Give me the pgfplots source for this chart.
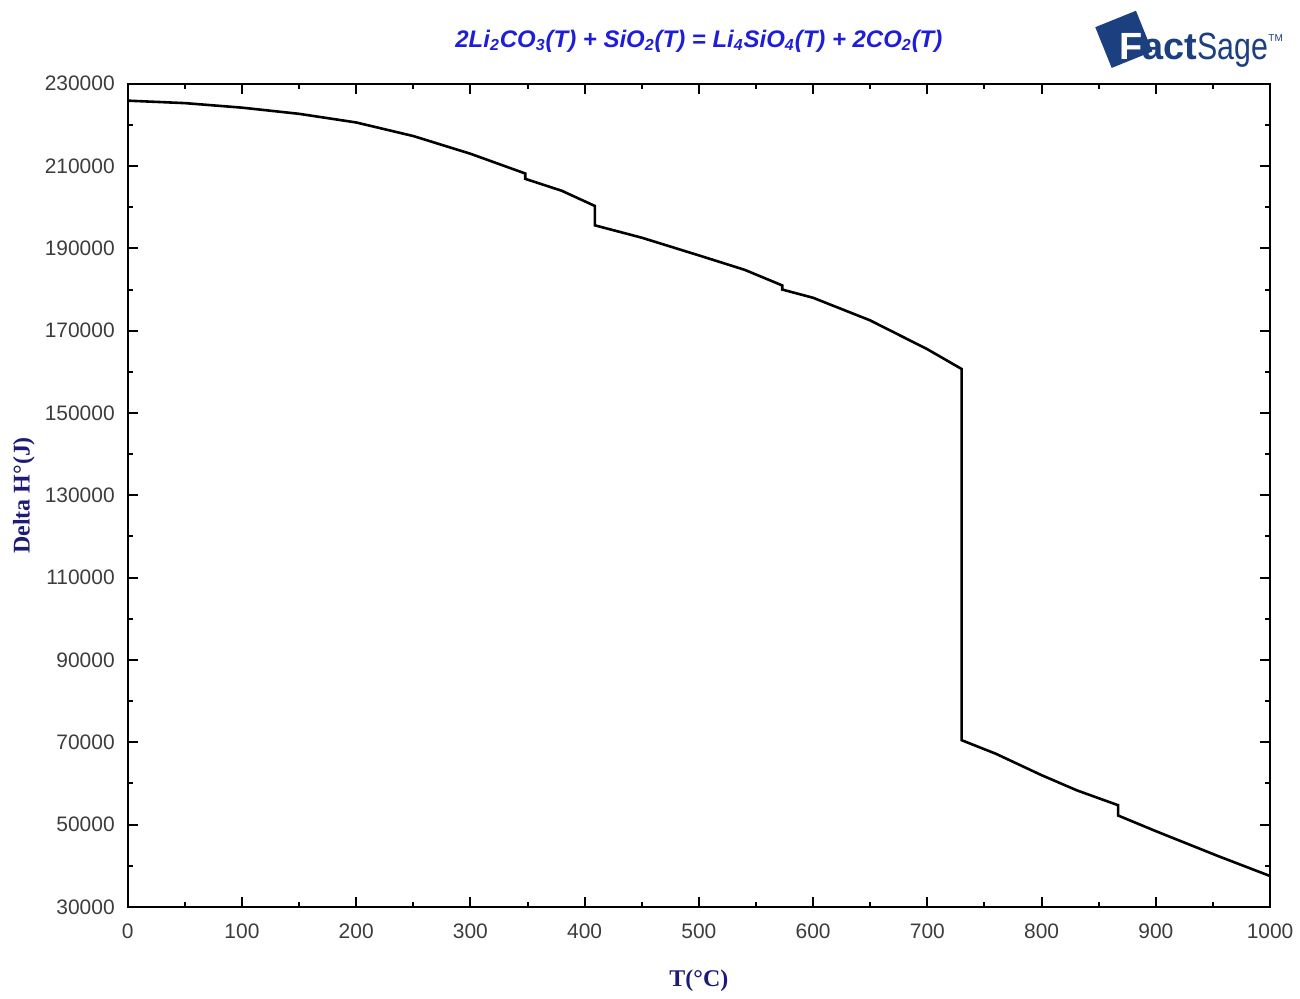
\documentclass[border=0pt]{standalone}
\usepackage{fontspec}
\setmainfont{Liberation Sans}
\newfontfamily\serifb{Liberation Serif}
\usepackage{pgfplots}
\pgfplotsset{compat=1.18}
\definecolor{labnavy}{RGB}{28,28,120}
\definecolor{titleblue}{RGB}{30,30,215}
\definecolor{logoblue}{RGB}{27,63,127}
\definecolor{tickgray}{RGB}{60,60,60}

\begin{document}
\begin{tikzpicture}
\begin{axis}[
  scale only axis,
  width=572.5pt, height=412.5pt,
  xmin=0, xmax=1000, ymin=30000, ymax=230000,
  xtick={0,100,...,1000},
  ytick={30000,50000,...,230000},
  minor x tick num=1, minor y tick num=1,
  tick align=inside,
  major tick length=5pt, minor tick length=2.5pt,
  axis line style={line width=1pt},
  every tick/.style={line width=1pt, black},
  scaled ticks=false,
  /pgf/number format/.cd, fixed, 1000 sep={}, assume math mode=true,
  /pgfplots/.cd,
  tick label style={font=\fontsize{10.5}{12}\selectfont, text=tickgray},
  yticklabel style={xshift=-3pt},
  xticklabel style={yshift=-5pt},
  xlabel={T(°C)},
  ylabel={Delta H°(J)},
  label style={font=\serifb\bfseries\fontsize{12}{14}\selectfont, text=labnavy},
  xlabel style={at={(rel axis cs:0.5,-0.0897)}, anchor=center},
  ylabel style={at={(rel axis cs:-0.091,0.5)}, anchor=center, rotate=0},
  clip=false,
]
\addplot[black, line width=1.3pt] table {
T dH
0 225900
50 225300
100 224200
150 222700
200 220600
250 217300
300 213000
348 208200
348 206900
380 204000
409 200300
409 195600
450 192600
500 188300
540 184800
573 181000
573 180000
600 178000
650 172500
700 165500
730 160700
730 70500
760 67200
800 62000
831 58300
867 54700
867 52200
900 48400
954 42400
1000 37500
};
% fix the page to the reference's extent
\path (rel axis cs:-0.1118,-0.1042) rectangle (rel axis cs:1.0236,1.1018);
% title
\node[font=\bfseries\itshape\fontsize{12}{14}\selectfont, text=titleblue]
  at (rel axis cs:0.5,1.052)
  {2Li\textsubscript{2}CO\textsubscript{3}(T) + SiO\textsubscript{2}(T) = Li\textsubscript{4}SiO\textsubscript{4}(T) + 2CO\textsubscript{2}(T)};
% FactSage logo
\node[fill=logoblue, rotate=22, minimum size=22pt, inner sep=0pt]
  at (rel axis cs:0.872,1.054) {};
\node[anchor=base west, inner sep=0pt, font=\fontsize{19}{20}\selectfont]
  at (rel axis cs:0.868,1.030)
  {\textcolor{white}{\bfseries F}\textcolor{logoblue}{\bfseries act}\textcolor{logoblue}{\scalebox{0.8}[1]{Sage}}\raisebox{9pt}{\textcolor{logoblue}{\fontsize{5}{6}\selectfont TM}}};
\end{axis}
\end{tikzpicture}
\end{document}
